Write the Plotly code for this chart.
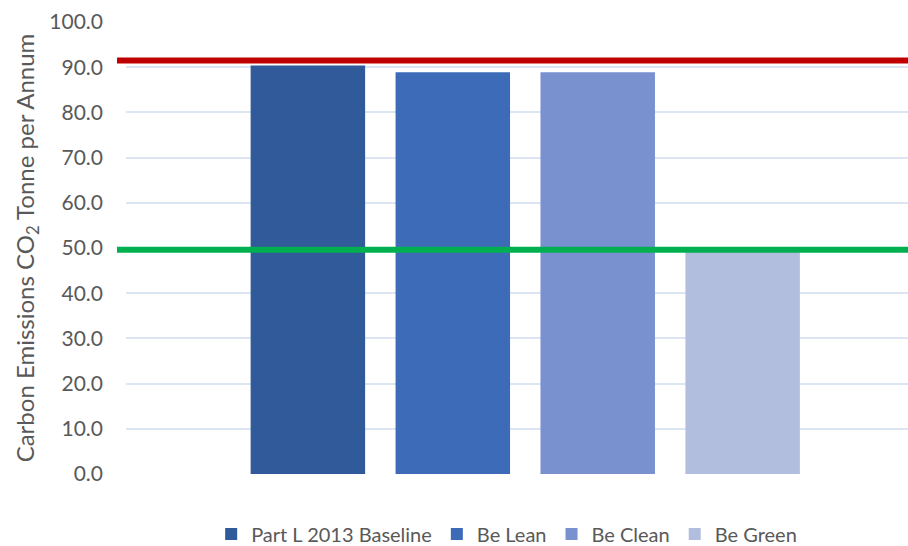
import plotly.graph_objects as go

series = ["Part L 2013 Baseline", "Be Lean", "Be Clean", "Be Green"]
values = [90.4, 88.9, 88.9, 49.1]
colors = ["#305A9A", "#3E6BB8", "#7991CF", "#B2BEDD"]
red_line = 91.5
green_line = 49.6
y_ticks = [0, 10, 20, 30, 40, 50, 60, 70, 80, 90, 100]

fig = go.Figure()
for name, v, c in zip(series, values, colors):
    fig.add_trace(go.Bar(x=[name], y=[v], name=name, marker=dict(color=c, line=dict(width=0)),
                         width=0.79))

for yv, col in [(red_line, "#C00000"), (green_line, "#00B050")]:
    fig.add_shape(type="line", xref="paper", yref="y", x0=-0.0115, x1=1.0, y0=yv, y1=yv,
                  line=dict(color=col, width=6), layer="above")

font = "Lato, 'Open Sans', sans-serif"
fig.update_layout(
    width=908, height=546,
    margin=dict(l=126, r=0, t=22, b=72, autoexpand=False),
    paper_bgcolor="white", plot_bgcolor="white",
    barmode="overlay",
    font=dict(family=font, size=20, color="#595959"),
    showlegend=True,
    legend=dict(orientation="h", x=0.558, xref="container", xanchor="center",
                y=0.022, yref="container", yanchor="middle",
                font=dict(size=20, color="#595959"), itemwidth=30, tracegroupgap=0),
    xaxis=dict(range=[-1.255, 4.141], showticklabels=False, showgrid=False, zeroline=False,
               showline=False, categoryorder="array", categoryarray=series),
    yaxis=dict(range=[0, 100], tickvals=y_ticks, tickformat=".1f", showgrid=True,
               gridcolor="#DCE5F3", gridwidth=1.5, zeroline=False, showline=False,
               ticklabelstandoff=22,
               title=dict(text="Carbon Emissions CO<sub>2</sub> Tonne per Annum",
                          font=dict(size=24, color="#595959"), standoff=7),
               tickfont=dict(size=21, color="#595959")),
)

fig.write_html("out.html")
